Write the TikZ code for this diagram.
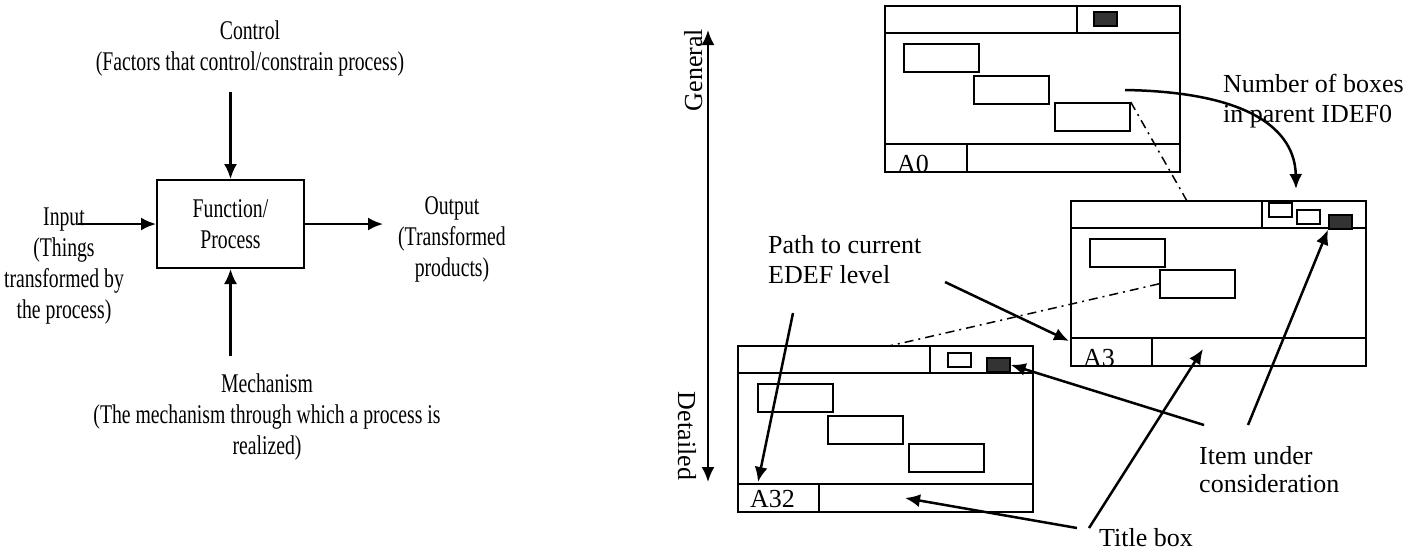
\documentclass[tikz,border=0pt]{standalone}
\usepackage{fontspec}
\setmainfont{Liberation Serif}
\newfontfamily\narrowserif[FakeStretch=0.73]{Liberation Serif}
\usetikzlibrary{arrows.meta}

\begin{document}
\begin{tikzpicture}[x=1pt, y=-1pt,
        >={Latex[length=15pt,width=13pt]},
        lefttext/.style={font=\narrowserif\fontsize{27}{31}\selectfont, align=center, inner sep=0pt},
        note/.style={font=\fontsize{26}{30}\selectfont, align=left, inner sep=0pt, anchor=north west},
        flow/.style={->, line width=2.2pt},
        pointer/.style={->, line width=2.5pt},
        sheet/.style={line width=2pt},
        cell/.style={draw, line width=1.7pt, minimum width=75pt, minimum height=28pt, inner sep=0pt, anchor=north west},
        tiny/.style={draw, line width=1.7pt, minimum width=23pt, minimum height=14pt, inner sep=0pt, anchor=north west},
        item/.style={tiny, fill=black!80},
        ref/.style={line width=1.5pt, dash pattern=on 9pt off 5pt on 2pt off 5pt}]
        \useasboundingbox (0,0) rectangle (1424,550);

        % IDEF0 function box
        \node[draw, line width=2pt, minimum width=147pt, minimum height=88pt, lefttext] (func) at (230.5,224) {Function/\\Process};
        \node[lefttext, anchor=north] (ctrl) at (250,21) {Control\\(Factors that control/constrain process)};
        \node[lefttext, anchor=north] (inp) at (64,208) {Input\\(Things\\transformed by\\the process)};
        \node[lefttext, anchor=north] (outp) at (452,196) {Output\\(Transformed\\products)};
        \node[lefttext, anchor=north] (mech) at (267,374) {Mechanism\\(The mechanism through which a process is\\realized)};
        \coordinate (ctrlin) at (230.5,92);
        \coordinate (inpin) at (78,224);
        \coordinate (outpout) at (383,224);
        \coordinate (mechin) at (230.5,356);
        \draw[flow] (ctrlin) -- (func);
        \draw[flow] (inpin) -- (func);
        \draw[flow] (func) -- (outpout);
        \draw[flow] (mechin) -- (func);

        % general / detailed
        \coordinate (gen) at (708,30);
        \coordinate (det) at (708,482);
        \draw[<->, line width=2.2pt] (gen) -- (det);
        \node[font=\fontsize{26}{30}\selectfont, inner sep=0pt, rotate=90, anchor=base] (genlbl) at (702,70) {General};
        \node[font=\fontsize{26}{30}\selectfont, inner sep=0pt, rotate=-90, anchor=base] (detlbl) at (678,436) {Detailed};

        % A0 sheet
        \begin{scope}[shift={(885,6)}]
            \draw[sheet] (0,0) rectangle (295,166);
            \draw[sheet] (0,27) -- (295,27) (192,0) -- (192,27) (0,138) -- (295,138) (82,138) -- (82,166);
            \node[cell] (a0a) at (18,37) {};
            \node[cell] (a0b) at (88,69) {};
            \node[cell] (a0c) at (169,96) {};
            \node[item] (a0item) at (208,5) {};
            \node[note, anchor=base west] (a0lbl) at (12,166) {A0};
        \end{scope}

        % A3 sheet
        \begin{scope}[shift={(1071,201)}]
            \draw[sheet] (0,0) rectangle (295,165);
            \draw[sheet] (0,27) -- (295,27) (191,0) -- (191,27) (0,137) -- (295,137) (81,137) -- (81,165);
            \node[cell] (a3a) at (18,37) {};
            \node[cell] (a3b) at (88,68) {};
            \node[tiny] (a3p) at (197,1) {};
            \node[tiny] (a3q) at (225,8) {};
            \node[item] (a3item) at (257,13) {};
            \node[note, anchor=base west] (a3lbl) at (12,165) {A3};
            \coordinate (a3top) at (116,0);
            \coordinate (a3path) at (-2,140);
            \coordinate (a3title) at (132,148);
        \end{scope}

        % A32 sheet
        \begin{scope}[shift={(738,346)}]
            \draw[sheet] (0,0) rectangle (295,166);
            \draw[sheet] (0,27) -- (295,27) (192,0) -- (192,27) (0,138) -- (295,138) (81,138) -- (81,166);
            \node[cell] (a32a) at (19,37) {};
            \node[cell] (a32b) at (89,69) {};
            \node[cell] (a32c) at (170,97) {};
            \node[tiny] (a32p) at (209,6) {};
            \node[item] (a32item) at (248,11) {};
            \node[note, anchor=base west] (a32lbl) at (12,161) {A32};
            \coordinate (a32top) at (151,0);
            \coordinate (a32path) at (20,136);
            \coordinate (a32title) at (167,152);
        \end{scope}

        % parent links
        \draw[ref] (a0c.north east) -- (a3top);
        \draw[ref] (a3b.west) -- (a32top);

        % notes
        \node[note] (numlbl) at (1223,74) {Number of boxes\\in parent IDEF0};
        \node[note] (pathlbl) at (768,235) {Path to current\\EDEF level};
        \node[note, font=\fontsize{26}{28.5}\selectfont] (itemlbl) at (1199,446) {Item under\\consideration};
        \node[note] (titlelbl) at (1099,528) {Title box};
        \coordinate (numfrom) at (1125,90);
        \coordinate (numto) at (1296,189);
        \coordinate (pathA) at (945,282);
        \coordinate (pathB) at (793,313);
        \coordinate (itemA) at (1204,425);
        \coordinate (itemB) at (1248,425);
        \coordinate (titleA) at (1077,528);
        \coordinate (titleB) at (1089,528);
        \draw[pointer] (numfrom) .. controls (1250,92) and (1295,130) .. (numto);
        \draw[pointer] (pathA) -- (a3path);
        \draw[pointer] (pathB) -- (a32path);
        \draw[pointer] (itemA) -- (a32item.east);
        \draw[pointer] (itemB) -- (a3item.south west);
        \draw[pointer] (titleA) -- (a32title);
        \draw[pointer] (titleB) -- (a3title);

    \end{tikzpicture}
\end{document}
